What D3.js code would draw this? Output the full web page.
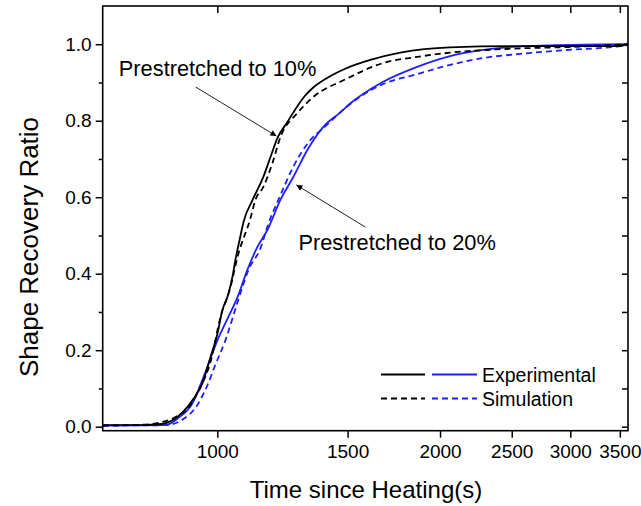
<!DOCTYPE html>
<html>
<head>
<meta charset="utf-8">
<script src="https://cdn.jsdelivr.net/npm/d3@7"></script>
<style>
  body { margin: 0; background: #fff; }
  text { font-family: "Liberation Sans", Arial, sans-serif; fill: #000; }
</style>
</head>
<body>
<svg id="chart" width="641" height="506"></svg>
<script>
// Black = prestretched to 10%, blue = prestretched to 20%
var exp10T = [700, 790, 840, 870, 898, 926, 955, 979, 1001, 1016, 1032, 1048, 1058, 1075, 1085, 1116, 1154, 1180, 1206, 1244, 1283, 1312, 1348, 1422, 1489, 1610, 1767, 2064, 2542, 3000, 3470, 3590];
var exp10V = [0.004, 0.004, 0.007, 0.017, 0.038, 0.07, 0.114, 0.182, 0.245, 0.305, 0.339, 0.391, 0.436, 0.5, 0.535, 0.593, 0.653, 0.705, 0.755, 0.797, 0.838, 0.864, 0.887, 0.917, 0.936, 0.959, 0.978, 0.992, 0.995, 0.995, 0.995, 1.0];

var sim10T = [700, 790, 833, 878, 920, 949, 979, 1010, 1042, 1065, 1109, 1126, 1154, 1187, 1217, 1283, 1348, 1489, 1676, 1863, 2064, 2411, 3120, 3590];
var sim10V = [0.003, 0.005, 0.01, 0.025, 0.057, 0.104, 0.169, 0.287, 0.365, 0.444, 0.546, 0.593, 0.627, 0.689, 0.757, 0.82, 0.862, 0.908, 0.951, 0.967, 0.978, 0.987, 0.994, 1.0];

var exp20T = [700, 851, 886, 926, 958, 1001, 1035, 1065, 1098, 1133, 1169, 1217, 1267, 1324, 1391, 1467, 1512, 1676, 1863, 2064, 2287, 2542, 2817, 3590];
var exp20V = [0.003, 0.004, 0.023, 0.062, 0.13, 0.227, 0.287, 0.339, 0.41, 0.47, 0.515, 0.593, 0.653, 0.724, 0.784, 0.822, 0.845, 0.902, 0.941, 0.969, 0.985, 0.994, 0.997, 1.0];

var sim20T = [700, 850, 900, 940, 970, 994, 1026, 1062, 1102, 1144, 1172, 1217, 1267, 1324, 1408, 1499, 1575, 1676, 1863, 2064, 2287, 2542, 2969, 3468, 3590];
var sim20V = [0.003, 0.004, 0.02, 0.057, 0.109, 0.162, 0.227, 0.318, 0.41, 0.467, 0.53, 0.605, 0.68, 0.74, 0.79, 0.838, 0.868, 0.896, 0.922, 0.946, 0.964, 0.974, 0.985, 0.994, 0.998];

var xTicks = [1000, 1500, 2000, 2500, 3000, 3500];
var yTicks = [0, 0.2, 0.4, 0.6, 0.8, 1.0];
var yMinor = [0.1, 0.3, 0.5, 0.7, 0.9];

var svg = d3.select("#chart");
var pLeft = 102.7, pRight = 628, pTop = 6, pBottom = 430.7;

var x = d3.scaleLog().domain([700, 3590]).range([pLeft, pRight]);
var y = d3.scaleLinear().domain([-0.0105, 1.1]).range([pBottom, pTop]);

function pts(ts, vs) {
    return ts.map(function(t, i) { return [t, vs[i]]; });
}

var line = d3.line()
    .curve(d3.curveMonotoneX)
    .x(function(d) { return x(d[0]); })
    .y(function(d) { return y(d[1]); });

var defs = svg.append("defs");
defs.append("clipPath").attr("id", "clip")
    .append("rect").attr("x", pLeft).attr("y", pTop)
    .attr("width", pRight - pLeft).attr("height", pBottom - pTop);

defs.append("marker")
    .attr("id", "arrow").attr("viewBox", "0 0 10 10")
    .attr("refX", 10).attr("refY", 5)
    .attr("markerWidth", 11).attr("markerHeight", 6)
    .attr("markerUnits", "userSpaceOnUse")
    .attr("orient", "auto")
    .append("path").attr("d", "M0,0 L10,5 L0,10 Z").attr("fill", "#000");

var blue = "#1f1fff";
var dash = "6,4";

var series = [
    { data: pts(sim20T, sim20V), color: blue, dashed: true },
    { data: pts(exp20T, exp20V), color: blue, dashed: false },
    { data: pts(sim10T, sim10V), color: "#000", dashed: true },
    { data: pts(exp10T, exp10V), color: "#000", dashed: false }
];

var plot = svg.append("g").attr("clip-path", "url(#clip)");
series.forEach(function(s) {
    plot.append("path")
        .attr("d", line(s.data))
        .attr("fill", "none")
        .attr("stroke", s.color)
        .attr("stroke-width", 1.8)
        .attr("stroke-dasharray", s.dashed ? dash : null);
});

// axes
function styleAxis(g) {
    g.select(".domain").remove();
    g.selectAll("line").attr("stroke", "#000").attr("stroke-width", 1.5);
    g.selectAll("text").style("font-size", "19px").style("font-family", "Liberation Sans, Arial, sans-serif");
}

svg.append("g").attr("transform", "translate(0," + pBottom + ")")
    .call(d3.axisBottom(x).tickValues(xTicks).tickFormat(d3.format("d")).tickSize(7).tickPadding(7))
    .call(styleAxis);
svg.append("g").attr("transform", "translate(0," + pTop + ")")
    .call(d3.axisBottom(x).tickValues(xTicks).tickFormat("").tickSize(7))
    .call(styleAxis);

svg.append("g").attr("transform", "translate(" + pLeft + ",0)")
    .call(d3.axisLeft(y).tickValues(yTicks).tickFormat(d3.format(".1f")).tickSize(7).tickPadding(4))
    .call(styleAxis);
svg.append("g").attr("transform", "translate(" + pLeft + ",0)")
    .call(d3.axisLeft(y).tickValues(yMinor).tickFormat("").tickSize(4))
    .call(styleAxis);
svg.append("g").attr("transform", "translate(" + pRight + ",0)")
    .call(d3.axisLeft(y).tickValues(yTicks.concat(yMinor)).tickFormat("").tickSize(6))
    .call(styleAxis);

svg.append("rect")
    .attr("x", pLeft).attr("y", pTop)
    .attr("width", pRight - pLeft).attr("height", pBottom - pTop)
    .attr("fill", "none").attr("stroke", "#000").attr("stroke-width", 1.6);

// titles
svg.append("text").attr("x", 366).attr("y", 498)
    .attr("text-anchor", "middle").style("font-size", "24px")
    .text("Time since Heating(s)");
svg.append("text").attr("transform", "translate(38,247) rotate(-90)")
    .attr("text-anchor", "middle").style("font-size", "26px")
    .text("Shape Recovery Ratio");

// annotations
var notes = [
    { text: "Prestretched to 10%", tx: 736, tv: 0.917, from: [935, 0.888], to: [1202, 0.760] },
    { text: "Prestretched to 20%", tx: 1287, tv: 0.462, from: [1585, 0.522], to: [1279, 0.632] }
];
notes.forEach(function(n) {
    svg.append("text").attr("x", x(n.tx)).attr("y", y(n.tv))
        .style("font-size", "21.8px").text(n.text);
    svg.append("line")
        .attr("x1", x(n.from[0])).attr("y1", y(n.from[1]))
        .attr("x2", x(n.to[0])).attr("y2", y(n.to[1]))
        .attr("stroke", "#222").attr("stroke-width", 1)
        .attr("marker-end", "url(#arrow)");
});

// legend
var legend = svg.append("g");
var rows = [
    { label: "Experimental", dashed: false, ly: 374.5 },
    { label: "Simulation", dashed: true, ly: 398.5 }
];
rows.forEach(function(r) {
    legend.append("line").attr("x1", 381).attr("x2", 425).attr("y1", r.ly).attr("y2", r.ly)
        .attr("stroke", "#000").attr("stroke-width", 1.8)
        .attr("stroke-dasharray", r.dashed ? dash : null);
    legend.append("line").attr("x1", 432).attr("x2", 477).attr("y1", r.ly).attr("y2", r.ly)
        .attr("stroke", blue).attr("stroke-width", 1.8)
        .attr("stroke-dasharray", r.dashed ? dash : null);
    legend.append("text").attr("x", 482).attr("y", r.ly + 7)
        .style("font-size", "19.5px").text(r.label);
});
</script>
</body>
</html>
